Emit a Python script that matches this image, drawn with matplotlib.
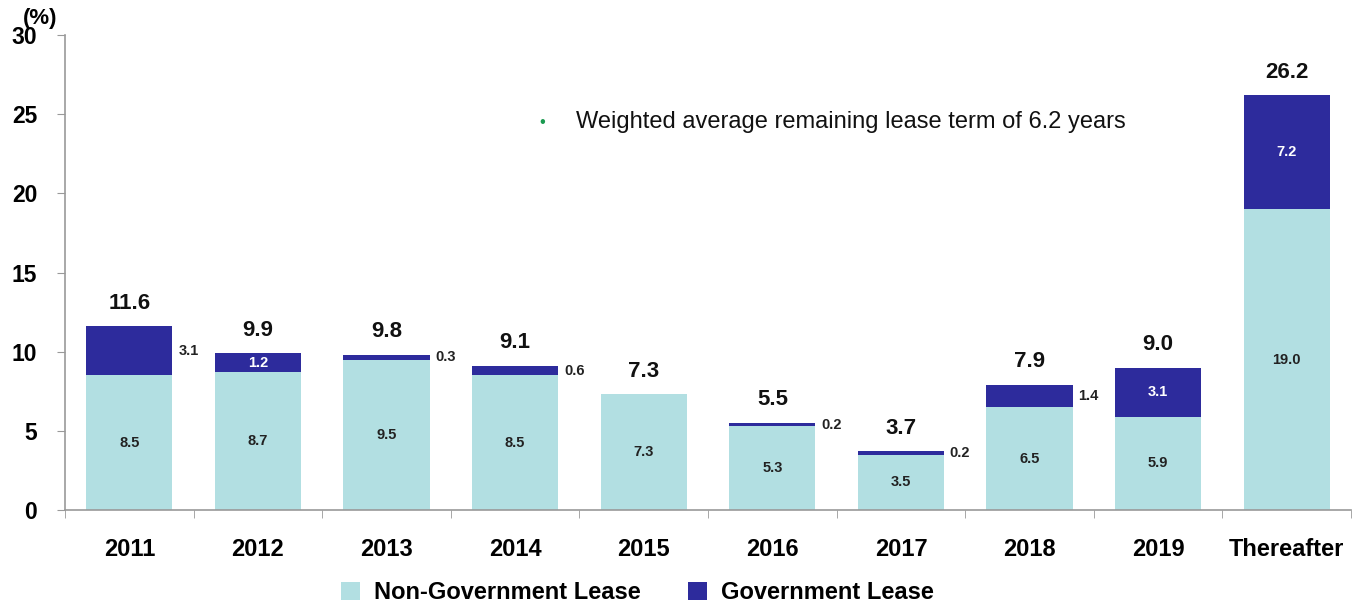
import matplotlib
matplotlib.use("Agg")
import matplotlib.pyplot as plt
import numpy as np

categories = ["2011", "2012", "2013", "2014", "2015", "2016", "2017", "2018", "2019", "Thereafter"]
non_gov = [8.5, 8.7, 9.5, 8.5, 7.3, 5.3, 3.5, 6.5, 5.9, 19.0]
gov = [3.1, 1.2, 0.3, 0.6, 0.0, 0.2, 0.2, 1.4, 3.1, 7.2]
totals = [11.6, 9.9, 9.8, 9.1, 7.3, 5.5, 3.7, 7.9, 9.0, 26.2]
gov_label_inside = [False, True, False, False, None, False, False, False, True, True]
yticks = [0, 5, 10, 15, 20, 25, 30]

c_light = "#B2DFE2"
c_dark = "#2D2B9C"

plt.rcParams['font.family'] = ['Liberation Sans', 'DejaVu Sans']
fig = plt.figure(figsize=(13.61, 6.07), dpi=100)
ax = fig.add_axes([0.0478, 0.1598, 0.9449, 0.7825])

x = np.arange(len(categories))
w = 0.67
ax.bar(x, non_gov, width=w, color=c_light, label="Non-Government Lease", zorder=2)
ax.bar(x, gov, width=w, bottom=non_gov, color=c_dark, label="Government Lease", zorder=2)

for i in range(len(categories)):
    ax.text(x[i], non_gov[i] / 2, f"{non_gov[i]:.1f}", ha='center', va='center',
            fontsize=10.5, fontweight='bold', color='#222222')
    if gov[i] > 0:
        ymid = non_gov[i] + gov[i] / 2
        if gov_label_inside[i]:
            ax.text(x[i], ymid, f"{gov[i]:.1f}", ha='center', va='center',
                    fontsize=10.5, fontweight='bold', color='white')
        else:
            ax.text(x[i] + w / 2 + 0.045, ymid, f"{gov[i]:.1f}", ha='left', va='center',
                    fontsize=10.5, fontweight='bold', color='#222222')
    ax.annotate(f"{totals[i]:.1f}", (x[i], totals[i]), xytext=(0, 9),
                textcoords='offset points', ha='center', va='bottom',
                fontsize=16, fontweight='bold', color='#111111')

ax.set_xlim(-0.5, len(categories) - 0.5)
ax.set_ylim(0, 30)
ax.set_yticks(yticks)
ax.set_yticklabels([str(t) for t in yticks], fontsize=16.5, fontweight='bold')
ax.set_xticks(x)
ax.set_xticklabels(categories, fontsize=17, fontweight='bold')
ax.set_xticks(np.arange(len(categories) + 1) - 0.5, minor=True)
ax.tick_params(axis='x', which='major', length=0, pad=20)
ax.tick_params(axis='x', which='minor', length=6, color='#999999', direction='out')
ax.tick_params(axis='y', length=6, color='#999999', direction='out', pad=14)

for s in ['top', 'right']:
    ax.spines[s].set_visible(False)
for s in ['left', 'bottom']:
    ax.spines[s].set_color('#999999')
    ax.spines[s].set_linewidth(1.2)

fig.text(0.017, 0.970, "(%)", fontsize=16, fontweight='bold', ha='left', va='center')

ax.text(3.21, 24.5, "\u2022", color='#1a9a50', fontsize=12, ha='center', va='center')
ax.text(3.47, 24.5, "Weighted average remaining lease term of 6.2 years",
        fontsize=17, ha='left', va='center', color='#111111')

handles, labels = ax.get_legend_handles_labels()
fig.legend(handles, labels, loc='lower center', bbox_to_anchor=(0.4684, -0.03), ncol=2,
           frameon=False, prop={'size': 17, 'weight': 'bold'},
           handlelength=0.8, handleheight=0.8, columnspacing=2.0, handletextpad=0.6)

fig.savefig("out.png", dpi=100)
